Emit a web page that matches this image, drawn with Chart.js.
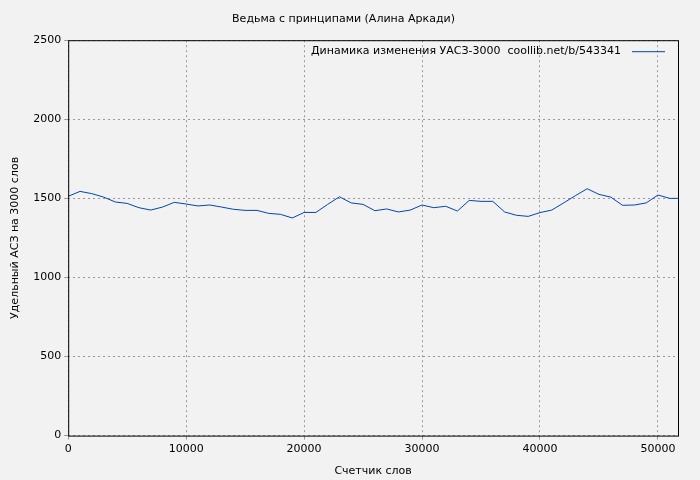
<!DOCTYPE html>
<html>
<head>
<meta charset="utf-8">
<script src="https://cdn.jsdelivr.net/npm/chart.js@4"></script>
<style>
  body { margin: 0; background: #f2f2f2; }
  #wrap { width: 700px; height: 480px; }
</style>
</head>
<body>
<div id="wrap"><canvas id="c"></canvas></div>
<script>
const words = [0,1000,2000,3000,4000,5000,6000,7000,8000,9000,10000,11000,12000,13000,14000,15000,16000,17000,18000,19000,20000,21000,22000,23000,24000,25000,26000,27000,28000,29000,30000,31000,32000,33000,34000,35000,36000,37000,38000,39000,40000,41000,42000,43000,44000,45000,46000,47000,48000,49000,50000,51000,51700];
const asz = [1513,1544,1530,1508,1477,1468,1441,1426,1445,1475,1464,1452,1458,1445,1431,1424,1424,1405,1399,1376,1411,1411,1462,1510,1471,1462,1422,1433,1414,1426,1458,1441,1450,1420,1487,1481,1481,1414,1393,1386,1410,1426,1471,1517,1561,1525,1508,1456,1458,1471,1521,1500,1500];
const xTicks = [0, 10000, 20000, 30000, 40000, 50000];
const yTicks = [0, 500, 1000, 1500, 2000, 2500];
const seriesLabel = 'Динамика изменения УАСЗ-3000  coollib.net/b/543341';
const FONT = 'DejaVu Sans';

const frame = {
    id: 'frame',
    afterDraw(chart) {
        const { ctx, chartArea: a } = chart;
        ctx.save();
        ctx.strokeStyle = '#000';
        ctx.lineWidth = 1;
        ctx.strokeRect(a.left + 0.5, a.top + 0.5, a.right - a.left, a.bottom - a.top);
        ctx.font = '11px ' + FONT;
        ctx.fillStyle = '#000';
        ctx.textAlign = 'right';
        ctx.textBaseline = 'middle';
        ctx.fillText(seriesLabel, a.right - 57, a.top + 11);
        ctx.strokeStyle = '#0047ab';
        ctx.beginPath();
        ctx.moveTo(a.right - 46, a.top + 11.5);
        ctx.lineTo(a.right - 13, a.top + 11.5);
        ctx.stroke();
        ctx.restore();
    }
};

const tickFont = { family: FONT, size: 11 };

new Chart(document.getElementById('c'), {
    type: 'line',
    data: {
        datasets: [{
            label: seriesLabel,
            data: words.map((w, i) => ({ x: w, y: asz[i] })),
            borderColor: '#0047ab',
            borderWidth: 1,
            pointRadius: 0,
            tension: 0,
            fill: false
        }]
    },
    options: {
        responsive: true,
        maintainAspectRatio: false,
        animation: false,
        layout: { padding: { left: 9, right: 22, top: 2, bottom: 2 } },
        plugins: {
            legend: { display: false },
            tooltip: { enabled: false },
            title: {
                display: true,
                text: 'Ведьма с принципами (Алина Аркади)',
                color: '#000',
                font: { family: FONT, size: 11, weight: 'normal' },
                padding: { top: 11, bottom: 14 }
            }
        },
        scales: {
            x: {
                type: 'linear',
                min: 0,
                max: 51700,
                afterBuildTicks: s => { s.ticks = xTicks.map(v => ({ value: v })); },
                ticks: { color: '#000', font: tickFont, autoSkip: false, maxRotation: 0, callback: v => String(v) },
                grid: { color: '#999', tickLength: 4 },
                border: { display: false, dash: [2, 3] },
                title: { display: true, text: 'Счетчик слов', color: '#000', font: tickFont, padding: { top: 6, bottom: 0 } }
            },
            y: {
                min: 0,
                max: 2500,
                afterBuildTicks: s => { s.ticks = yTicks.map(v => ({ value: v })); },
                ticks: { color: '#000', font: tickFont, callback: v => String(v) },
                grid: { color: '#999', tickLength: 4 },
                border: { display: false, dash: [2, 3] },
                title: { display: true, text: 'Удельный АСЗ на 3000 слов', color: '#000', font: tickFont, padding: { top: 0, bottom: 8 } }
            }
        }
    },
    plugins: [frame]
});
</script>
</body>
</html>
